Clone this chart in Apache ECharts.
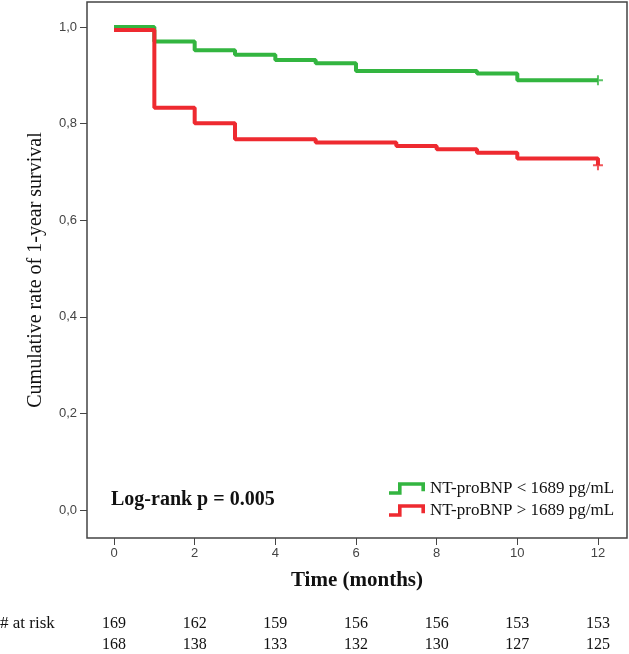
<!DOCTYPE html>
<html>
<head>
<meta charset="utf-8">
<script src="https://cdn.jsdelivr.net/npm/echarts@6/dist/echarts.min.js"></script>
<style>
html, body { margin: 0; padding: 0; background: #fff; }
#chart { width: 629px; height: 654px; }
</style>
</head>
<body>
<div id="chart"></div>
<script>
// Kaplan-Meier steps
var lowName = 'NT-proBNP < 1689 pg/mL';
var lowTimes = [0, 1, 2, 3, 4, 5, 6, 9, 10, 12];
var lowSurv = [1.0, 0.970, 0.952, 0.943, 0.932, 0.925, 0.909, 0.904, 0.890, 0.890];

var highName = 'NT-proBNP > 1689 pg/mL';
var highTimes = [0, 1, 2, 3, 5, 7, 8, 9, 10, 12];
var highSurv = [0.994, 0.833, 0.801, 0.768, 0.761, 0.754, 0.747, 0.740, 0.728, 0.714];

var xTicks = [0, 2, 4, 6, 8, 10, 12];
var yTicks = [0, 0.2, 0.4, 0.6, 0.8, 1.0];

// numbers at risk
var riskLow = [169, 162, 159, 156, 156, 153, 153];
var riskHigh = [168, 138, 133, 132, 130, 127, 125];

var green = '#33b540';
var red = '#ee2a30';
var stepIcon = 'path://M0,10L10,10L10,0L40,0L40,10L36,10L36,4L14,4L14,14L0,14Z';
var plusIcon = 'path://M4,0H6V4H10V6H6V10H4V6H0V4H4Z';

function pairs(t, s) {
    return t.map(function (x, i) { return [x, s[i]]; });
}
function lastPoint(t, s) {
    return [[t[t.length - 1], s[s.length - 1]]];
}
function riskAxis(offset, values) {
    return {
        type: 'value', min: -0.67, max: 12.72, position: 'bottom', offset: offset,
        axisLine: { show: false, onZero: false }, axisTick: { show: false }, splitLine: { show: false },
        axisLabel: {
            customValues: xTicks, margin: 0,
            fontFamily: 'Liberation Serif', fontSize: 16, color: '#111',
            formatter: function (v) { return values[xTicks.indexOf(v)]; }
        }
    };
}

var chart = echarts.init(document.getElementById('chart'));
chart.setOption({
    animation: false,
    grid: { left: 87, right: 2, top: 2, bottom: 116, show: true, borderColor: '#444', borderWidth: 1.5 },
    legend: {
        orient: 'vertical', left: 384, top: 475, itemWidth: 36, itemHeight: 13, itemGap: 5,
        textStyle: { fontFamily: 'Liberation Serif', fontSize: 17, color: '#111' },
        data: [{ name: lowName, icon: stepIcon }, { name: highName, icon: stepIcon }]
    },
    xAxis: [
        {
            type: 'value', min: -0.67, max: 12.72, position: 'bottom',
            axisLine: { show: false, onZero: false }, splitLine: { show: false },
            axisTick: { customValues: xTicks, length: 7, lineStyle: { color: '#444' } },
            axisLabel: { customValues: xTicks, margin: 9, fontFamily: 'Liberation Sans', fontSize: 13, color: '#444' },
            name: 'Time (months)', nameLocation: 'middle', nameGap: 32,
            nameTextStyle: { fontFamily: 'Liberation Serif', fontSize: 21, fontWeight: 'bold', color: '#111' }
        },
        riskAxis(78, riskLow),
        riskAxis(99, riskHigh)
    ],
    yAxis: {
        type: 'value', min: -0.058, max: 1.052, position: 'left',
        axisLine: { show: false, onZero: false }, splitLine: { show: false },
        axisTick: { customValues: yTicks, length: 7, lineStyle: { color: '#444' } },
        axisLabel: {
            customValues: yTicks, margin: 10, fontFamily: 'Liberation Sans', fontSize: 13, color: '#444',
            formatter: function (v) { return v.toFixed(1).replace('.', ','); }
        },
        name: 'Cumulative rate of 1-year survival', nameLocation: 'middle', nameGap: 41,
        nameTextStyle: { fontFamily: 'Liberation Serif', fontSize: 20, color: '#111' }
    },
    series: [
        {
            name: lowName, type: 'line', step: 'end', showSymbol: false, color: green,
            lineStyle: { width: 4, color: green }, data: pairs(lowTimes, lowSurv)
        },
        {
            name: highName, type: 'line', step: 'end', showSymbol: false, color: red,
            lineStyle: { width: 4, color: red }, data: pairs(highTimes, highSurv)
        },
        {
            name: 'lowCensor', type: 'scatter', symbol: plusIcon, symbolSize: 10,
            itemStyle: { color: green }, data: lastPoint(lowTimes, lowSurv)
        },
        {
            name: 'highCensor', type: 'scatter', symbol: plusIcon, symbolSize: 10,
            itemStyle: { color: red }, data: lastPoint(highTimes, highSurv)
        }
    ],
    graphic: [
        {
            type: 'text', left: 111, top: 490,
            style: { text: 'Log-rank p = 0.005', font: 'bold 20px "Liberation Serif"', fill: '#111' }
        },
        {
            type: 'text', left: 0, top: 615,
            style: { text: '# at risk', font: '17px "Liberation Serif"', fill: '#111' }
        }
    ]
});
</script>
</body>
</html>
